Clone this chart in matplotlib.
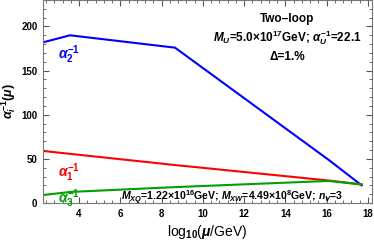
import matplotlib.pyplot as plt
from matplotlib.ticker import MultipleLocator

plt.rcParams['font.family'] = 'Liberation Sans'
plt.rcParams['font.weight'] = 'bold'
plt.rcParams['mathtext.fontset'] = 'custom'
plt.rcParams['mathtext.rm'] = 'Liberation Sans:bold'
plt.rcParams['mathtext.it'] = 'Liberation Sans:italic:bold'
plt.rcParams['mathtext.bf'] = 'Liberation Sans:bold'

# log10(mu/GeV) break points
log_mu = [2.25, 3.56, 8.65, 16.09, 17.7]
alpha1_inv = [59.0, 55.7, 43.0, 25.5, 21.0]
alpha2_inv = [182.0, 190.0, 176.0, 49.0, 20.0]
alpha3_inv = [9.0, 12.5, 18.0, 25.0, 21.0]

fig = plt.figure(figsize=(3.74, 2.43), dpi=100)
ax = fig.add_axes([43 / 374, 1 - 203 / 243, (372 - 43) / 374, 203 / 243])

ax.plot(log_mu, alpha2_inv, color='#0000ff', lw=1.5)
ax.plot(log_mu, alpha1_inv, color='#ff0000', lw=1.5)
ax.plot(log_mu, alpha3_inv, color='#00a000', lw=1.5)

ax.set_xlim(2.25, 18.2)
ax.set_ylim(0, 230)
ax.xaxis.set_major_locator(MultipleLocator(2))
ax.xaxis.set_minor_locator(MultipleLocator(0.4))
ax.yaxis.set_major_locator(MultipleLocator(50))
ax.yaxis.set_minor_locator(MultipleLocator(10))
ax.tick_params(which='both', direction='in', top=True, right=True,
               labelsize=7, color='#555555', pad=4)
ax.tick_params(which='major', length=4)
ax.tick_params(which='minor', length=2)
for s in ax.spines.values():
    s.set_color('#777777')

ax.set_xlabel(r'log$_{10}$($\mu$/GeV)', fontsize=10, labelpad=3)
ax.set_ylabel(r'$\alpha_i^{-1}(\mu)$', fontsize=9, labelpad=2)

ax.text(3.5, 168, r'$\alpha_2^{-1}$', color='#0000ff', fontsize=10,
        ha='center', va='center')
ax.text(3.5, 34, r'$\alpha_1^{-1}$', color='#ff0000', fontsize=10,
        ha='center', va='center')
ax.text(3.5, 5, r'$\alpha_3^{-1}$', color='#00a000', fontsize=10,
        ha='center', va='center')

ax.text(14.1, 209, 'Two\u2013loop', fontsize=8.5, ha='center', va='center')
ax.text(14.1, 187, r'$M_U$=5.0$\times$10$^{17}$GeV; $\alpha_U^{-1}$=22.1',
        fontsize=8.5, ha='center', va='center')
ax.text(14.1, 165, '\u0394=1.%', fontsize=8.5, ha='center', va='center')
ax.text(11.4, 6, r'$M_{XQ}$=1.22$\times$10$^{16}$GeV; $M_{XW}$=4.49$\times$10$^8$GeV; $n_V$=3',
        fontsize=7.6, ha='center', va='center')

fig.savefig('out.png', dpi=100)
